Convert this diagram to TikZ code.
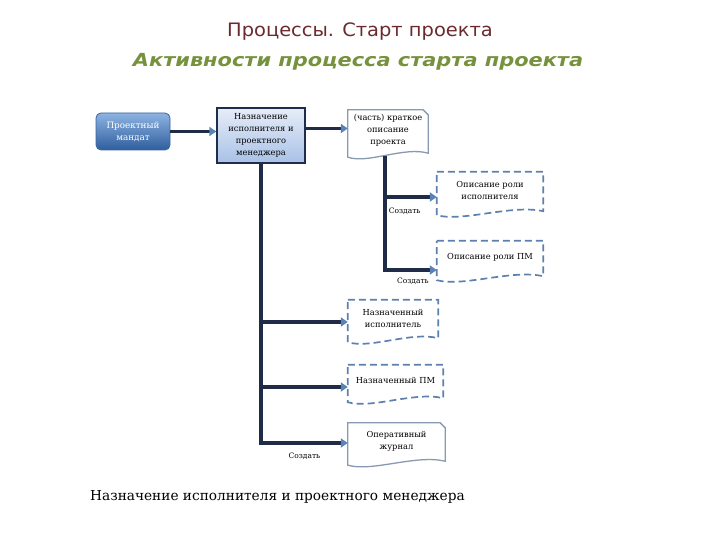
\documentclass[tikz,border=0pt]{standalone}
\usepackage{fontspec}
\usepackage{graphicx}
\setmainfont{DejaVu Serif}
\newfontfamily\titlefont{DejaVu Sans}
\usetikzlibrary{arrows.meta,calc}
\definecolor{titlered}{HTML}{6B2A2E}
\definecolor{titlegreen}{HTML}{76923C}
\definecolor{linec}{HTML}{1F2B47}
\definecolor{tipc}{HTML}{5B82B8}
\definecolor{dashc}{HTML}{5E80AE}
\definecolor{solidc}{HTML}{8A99B2}
\definecolor{mandtop}{HTML}{8DB3E2}
\definecolor{mandbot}{HTML}{2F5E9E}
\definecolor{mandedge}{HTML}{3A64A0}
\definecolor{naztop}{HTML}{E6EDF8}
\definecolor{nazbot}{HTML}{A9C1E6}
\definecolor{nazedge}{HTML}{1F2D4D}
\tikzset{
  x=1pt,y=-1pt,
  boxtxt/.style={font=\fontsize{8.3}{12}\selectfont,align=center,inner sep=1pt},
  mandbox/.style={boxtxt,rounded corners=5pt,top color=mandtop,bottom color=mandbot,
    draw=mandedge,line width=0.8pt,text=white,minimum width=74pt,minimum height=37pt,
    font=\fontsize{8.8}{12}\selectfont},
  nazbox/.style={boxtxt,top color=naztop,bottom color=nazbot,draw=nazedge,line width=1.4pt,
    minimum width=88pt,minimum height=55pt},
  docnode/.style={boxtxt,minimum height=#1},
  solidline/.style={draw=solidc,line width=1.3pt,fill=white},
  dashline/.style={draw=dashc,line width=1.7pt,dash pattern=on 7pt off 4pt,fill=white},
  conn/.style={draw=linec,line width=3.2pt,-{Triangle[length=7pt,width=9pt,fill=tipc,color=tipc]}},
  lbl/.style={font=\fontsize{7.5}{9}\selectfont,inner sep=1pt},
}
% #1 node name, #2 style
\newcommand{\docoutline}[2]{%
  \path[#2] (#1.north west) -- (#1.north east) -- ($(#1.south east)+(0,2)$)
    .. controls ($(#1.south east)!0.3!(#1.south west)+(0,-5)$) and ($(#1.south east)!0.75!(#1.south west)+(0,13)$) ..
    ($(#1.south west)+(0,6)$) -- cycle;}
\newcommand{\docoutlinecut}[2]{%
  \path[#2] (#1.north west) -- ($(#1.north east)+(-5,0)$) -- ($(#1.north east)+(0,5)$) -- ($(#1.south east)+(0,2)$)
    .. controls ($(#1.south east)!0.3!(#1.south west)+(0,-5)$) and ($(#1.south east)!0.75!(#1.south west)+(0,13)$) ..
    ($(#1.south west)+(0,6)$) -- cycle;}
\begin{document}
\begin{tikzpicture}
\useasboundingbox[fill=white] (0,0) rectangle (720,540);
% titles
\node[font=\titlefont\fontsize{18.5}{22}\selectfont,text=titlered] (title) at (360,32) {\scalebox{1.05}[1]{Процессы. Старт проекта}};
\node[font=\titlefont\bfseries\itshape\fontsize{18}{22}\selectfont,text=titlegreen] (subtitle) at (358,62) {\scalebox{1.16}[1]{Активности процесса старта проекта}};
% doc nodes (text placement areas)
\node[docnode=41pt,minimum width=80pt] (brief) at (388,130.5) {};
\node[docnode=37pt,minimum width=106pt] (roleisp) at (490,190.5) {};
\node[docnode=33pt,minimum width=106pt] (rolepm) at (490,257.5) {};
\node[docnode=36pt,minimum width=90pt] (ispoln) at (393,318) {};
\node[docnode=31pt,minimum width=95pt] (pm) at (395.5,380.5) {};
\node[docnode=36pt,minimum width=97pt] (journal) at (396.5,441) {};
% outlines
\docoutlinecut{brief}{solidline}
\docoutline{roleisp}{dashline}
\docoutline{rolepm}{dashline}
\docoutline{ispoln}{dashline}
\docoutline{pm}{dashline}
\docoutlinecut{journal}{solidline}
% texts on top of the white fills
\node[boxtxt] (briefT) at (brief) {(часть) краткое\\описание\\проекта};
\node[boxtxt] (roleispT) at (roleisp) {Описание роли\\исполнителя};
\node[boxtxt] (rolepmT) at (rolepm) {Описание роли ПМ};
\node[boxtxt] (ispolnT) at (ispoln) {Назначенный\\исполнитель};
\node[boxtxt] (pmT) at (pm) {Назначенный ПМ};
\node[boxtxt] (journalT) at (journal) {Оперативный\\журнал};
% process boxes
\node[mandbox] (mand) at (133,131.5) {Проектный\\мандат};
\node[nazbox] (nazn) at (261,135.5) {Назначение\\исполнителя и\\проектного\\менеджера};
% entry points
\coordinate (briefIn) at ($(brief.west)+(0,-2)$);
\coordinate (roleispIn) at ($(roleisp.west)+(0,6.5)$);
\coordinate (rolepmIn) at ($(rolepm.west)+(0,12.5)$);
\coordinate (ispolnIn) at ($(ispoln.west)+(0,4)$);
\coordinate (pmIn) at ($(pm.west)+(0,6.5)$);
\coordinate (journalIn) at ($(journal.west)+(0,2)$);
\coordinate (briefOut) at ($(brief.south)+(-3,5)$);
% connectors
\draw[conn] (mand.east) -- (mand.east -| nazn.west);
\draw[conn] (nazn.east |- briefIn) -- (briefIn);
\draw[conn] (nazn.south) |- node[lbl,pos=0.75,below=7pt] (lbl3) {Создать} (journalIn);
\draw[conn] (nazn.south |- ispolnIn) -- (ispolnIn);
\draw[conn] (nazn.south |- pmIn) -- (pmIn);
\draw[conn] (briefOut) |- node[lbl,pos=0.77,below=5pt] (lbl2) {Создать} (rolepmIn);
\draw[conn] (briefOut |- roleispIn) -- node[lbl,pos=0.38,below=8pt] (lbl1) {Создать} (roleispIn);
% caption
\node[anchor=west,font=\fontsize{13.7}{16}\selectfont,inner sep=0pt] (caption) at (90,497) {Назначение исполнителя и проектного менеджера};
\end{tikzpicture}
\end{document}
